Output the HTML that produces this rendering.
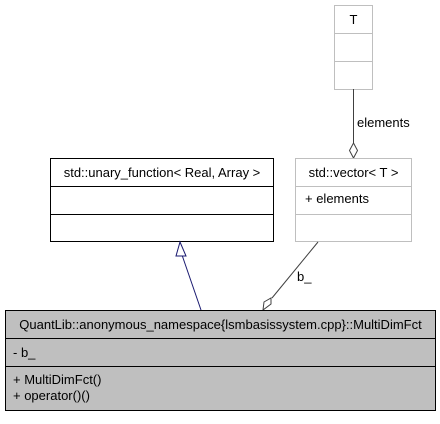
<!DOCTYPE html>
<html><head><style>
body{margin:0;background:#fff;}
svg text{font-family:"Liberation Sans",sans-serif;font-size:13px;}
</style></head><body>
<svg width="440" height="419" xmlns="http://www.w3.org/2000/svg">
<rect x="334.5" y="5.5" width="38" height="84" fill="#fff" stroke="#bfbfbf"/>
<line x1="334.5" y1="33.5" x2="372.5" y2="33.5" stroke="#bfbfbf"/>
<line x1="334.5" y1="61.5" x2="372.5" y2="61.5" stroke="#bfbfbf"/>
<text x="353.5" y="24" text-anchor="middle">T</text>
<line x1="353.5" y1="89" x2="353.5" y2="144" stroke="#404040"/>
<polygon points="353.5,143 357.5,150.5 353.5,158 349.5,150.5" fill="#fff" stroke="#404040"/>
<text x="357" y="127">elements</text>
<rect x="295.5" y="158.5" width="116" height="83" fill="#fff" stroke="#bfbfbf"/>
<line x1="295.5" y1="186.5" x2="411.5" y2="186.5" stroke="#bfbfbf"/>
<line x1="295.5" y1="214.5" x2="411.5" y2="214.5" stroke="#bfbfbf"/>
<text x="353.5" y="177" text-anchor="middle">std::vector&lt; T &gt;</text>
<text x="305" y="203">+ elements</text>
<rect x="50.5" y="158.5" width="223" height="83" fill="#fff" stroke="#000" stroke-width="1"/>
<line x1="50.5" y1="186.5" x2="273.5" y2="186.5" stroke="#000"/>
<line x1="50.5" y1="214.5" x2="273.5" y2="214.5" stroke="#000"/>
<text x="162" y="177" text-anchor="middle">std::unary_function&lt; Real, Array &gt;</text>
<line x1="201" y1="310" x2="182" y2="255" stroke="#191970"/>
<polygon points="180,242 186,256 176,256" fill="#fff" stroke="#191970"/>
<line x1="318" y1="242" x2="272" y2="298" stroke="#404040"/>
<polygon points="271,298 271,304 263,310 264,302" fill="#fff" stroke="#404040"/>
<text x="297" y="281">b_</text>
<rect x="5.5" y="310.5" width="430" height="100" fill="#bfbfbf" stroke="#000"/>
<line x1="5.5" y1="338.5" x2="435.5" y2="338.5" stroke="#000"/>
<line x1="5.5" y1="366.5" x2="435.5" y2="366.5" stroke="#000"/>
<text x="220.5" y="329" text-anchor="middle">QuantLib::anonymous_namespace{lsmbasissystem.cpp}::MultiDimFct</text>
<text x="13" y="357">- b_</text>
<text x="13" y="384">+ MultiDimFct()</text>
<text x="13" y="400">+ operator()()</text>
</svg>
</body></html>
